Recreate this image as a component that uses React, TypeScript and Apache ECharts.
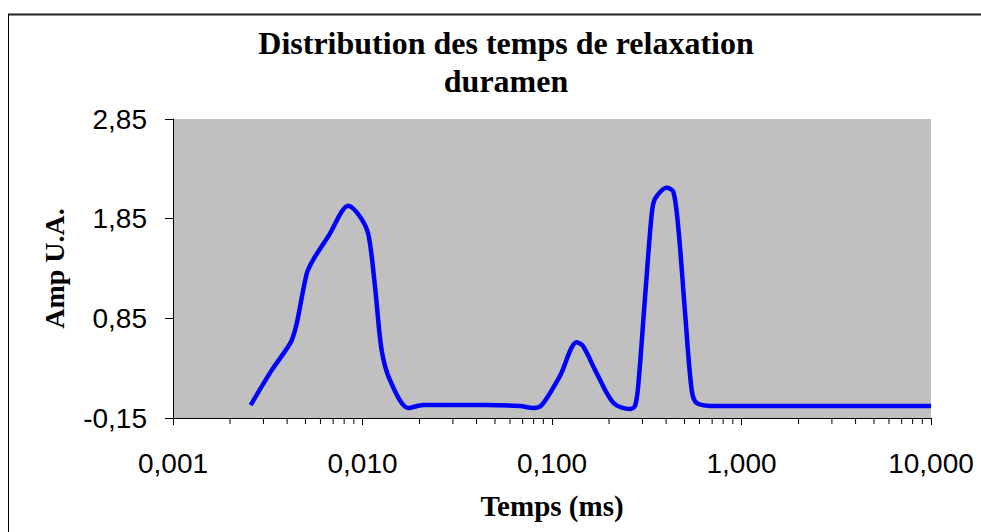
import React, { useEffect, useRef } from "react";
import * as echarts from "echarts";

const titleLines = ["Distribution des temps de relaxation", "duramen"];
const xAxisName = "Temps (ms)";
const yAxisName = "Amp U.A.";

const tempsMs = [
  0.00257, 0.00332, 0.0039, 0.00423, 0.0045, 0.00508, 0.0055, 0.00673, 0.00776,
  0.00841, 0.00971, 0.01074, 0.01164, 0.01262, 0.01396, 0.01746, 0.0209, 0.03,
  0.045, 0.0678, 0.0796, 0.0883, 0.11, 0.135, 0.146, 0.172, 0.211, 0.258, 0.274,
  0.285, 0.31, 0.336, 0.35, 0.403, 0.437, 0.465, 0.504, 0.546, 0.581, 0.74, 1.11,
  2.5, 5, 10,
];
const amplitude = [
  -0.02, 0.33, 0.52, 0.63, 0.8, 1.3, 1.44, 1.7, 1.92,
  1.98, 1.87, 1.69, 1.17, 0.53, 0.23, -0.05, -0.02, -0.02,
  -0.02, -0.03, -0.05, -0.02, 0.27, 0.61, 0.57, 0.3, 0.0, -0.06, -0.03,
  0.17, 1.07, 1.9, 2.05, 2.16, 2.12, 1.74, 0.9, 0.13, 0.0, -0.03, -0.03,
  -0.03, -0.03, -0.03,
];

const yTickValues = [-0.15, 0.85, 1.85, 2.85];
const xMin = 0.001;
const xMax = 10;
const xMinorTicks = [
  0.002, 0.003, 0.004, 0.005, 0.006, 0.007, 0.008, 0.009,
  0.02, 0.03, 0.04, 0.05, 0.06, 0.07, 0.08, 0.09,
  0.2, 0.3, 0.4, 0.5, 0.6, 0.7, 0.8, 0.9,
  2, 3, 4, 5, 6, 7, 8, 9,
];

const fmt = (v: number, d: number) => Number(v).toFixed(d).replace(".", ",");

export default function App() {
  const ref = useRef<HTMLDivElement>(null);
  useEffect(() => {
    if (!ref.current) return;
    const chart = echarts.init(ref.current, null, { renderer: "svg" });
    const yMin = yTickValues[0];
    const yMax = yTickValues[yTickValues.length - 1];
    chart.setOption({
      animation: false,
      backgroundColor: "#ffffff",
      title: {
        text: titleLines.join("\n"),
        left: 501,
        textAlign: "center",
        top: 19,
        textStyle: {
          fontFamily: "Liberation Serif",
          fontWeight: "bold",
          fontSize: 32,
          lineHeight: 38,
          color: "#000",
        },
      },
      graphic: [
        { type: "line", shape: { x1: 8, y1: 14.5, x2: 981, y2: 14.5 }, style: { stroke: "#222", lineWidth: 2 } },
        { type: "line", shape: { x1: 8.5, y1: 14, x2: 8.5, y2: 532 }, style: { stroke: "#000", lineWidth: 1 } },
      ],
      grid: {
        left: 173,
        right: 50,
        top: 119,
        bottom: 114,
        show: true,
        backgroundColor: "#c0c0c0",
        borderWidth: 0,
      },
      xAxis: {
        type: "log",
        logBase: 10,
        min: xMin,
        max: xMax,
        splitNumber: 4,
        name: xAxisName,
        nameLocation: "middle",
        nameGap: 73,
        nameTextStyle: {
          fontFamily: "Liberation Serif",
          fontWeight: "bold",
          fontSize: 29,
          color: "#000",
        },
        axisLine: { show: true, onZero: false, lineStyle: { color: "#000", width: 1 } },
        axisTick: { show: true, inside: false, length: 7, lineStyle: { color: "#000" } },
        minorTick: { show: false },
        splitLine: { show: false },
        axisLabel: {
          margin: 31,
          fontFamily: "Liberation Sans",
          fontSize: 28,
          color: "#000",
          formatter: (v: number) => fmt(v, 3),
        },
      },
      yAxis: {
        type: "value",
        min: yMin,
        max: yMax,
        name: yAxisName,
        nameLocation: "middle",
        nameGap: 105,
        nameTextStyle: {
          fontFamily: "Liberation Serif",
          fontWeight: "bold",
          fontSize: 28,
          color: "#000",
        },
        axisLine: { show: true, lineStyle: { color: "#000", width: 1 } },
        axisTick: {
          show: true,
          length: 8,
          customValues: yTickValues,
          lineStyle: { color: "#000" },
        },
        splitLine: { show: false },
        axisLabel: {
          margin: 26,
          fontFamily: "Liberation Sans",
          fontSize: 28,
          color: "#000",
          customValues: yTickValues,
          formatter: (v: number) => fmt(v, 2),
        },
      },
      series: [
        {
          type: "custom",
          silent: true,
          clip: false,
          z: 5,
          data: xMinorTicks.map((x) => [x, yMin]),
          encode: { x: 0, y: 1 },
          renderItem: (params: any, api: any) => {
            const p = api.coord([api.value(0), api.value(1)]);
            return {
              type: "line",
              shape: { x1: p[0], y1: p[1], x2: p[0], y2: p[1] + 6 },
              style: { stroke: "#000", lineWidth: 1 },
            };
          },
        },
        {
          type: "line",
          data: tempsMs.map((x, i) => [x, amplitude[i]]),
          showSymbol: false,
          smooth: 0.3,
          lineStyle: { color: "#0000ff", width: 4.5 },
          itemStyle: { color: "#0000ff" },
          z: 3,
        },
      ],
    });
    return () => chart.dispose();
  }, []);
  return (
    <div
      ref={ref}
      style={{ position: "fixed", left: 0, top: 0, width: 981, height: 532 }}
    />
  );
}
